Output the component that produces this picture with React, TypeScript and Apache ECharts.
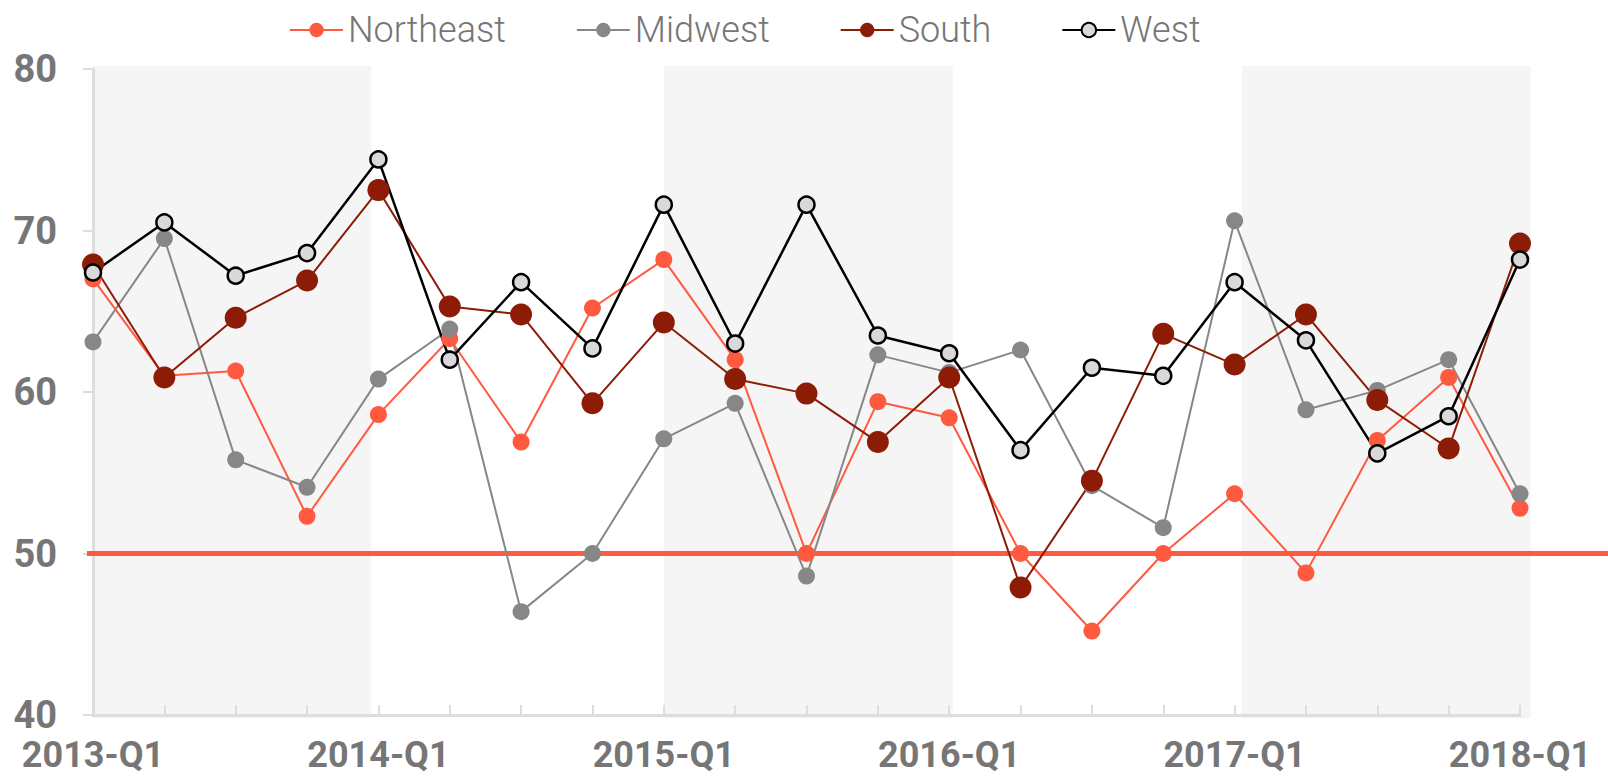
import React, { useEffect, useRef } from 'react';
import * as echarts from 'echarts';

const quarters = [
  '2013-Q1', '2013-Q2', '2013-Q3', '2013-Q4',
  '2014-Q1', '2014-Q2', '2014-Q3', '2014-Q4',
  '2015-Q1', '2015-Q2', '2015-Q3', '2015-Q4',
  '2016-Q1', '2016-Q2', '2016-Q3', '2016-Q4',
  '2017-Q1', '2017-Q2', '2017-Q3', '2017-Q4',
  '2018-Q1',
];

const northeast = [67.0, 61.0, 61.3, 52.3, 58.6, 63.3, 56.9, 65.2, 68.2, 62.0, 50.0, 59.4, 58.4, 50.0, 45.2, 50.0, 53.7, 48.8, 57.0, 60.9, 52.8];
const midwest = [63.1, 69.5, 55.8, 54.1, 60.8, 63.9, 46.4, 50.0, 57.1, 59.3, 48.6, 62.3, 61.2, 62.6, 54.2, 51.6, 70.6, 58.9, 60.1, 62.0, 53.7];
const south = [67.9, 60.9, 64.6, 66.9, 72.5, 65.3, 64.8, 59.3, 64.3, 60.8, 59.9, 56.9, 60.9, 47.9, 54.5, 63.6, 61.7, 64.8, 59.5, 56.5, 69.2];
const west = [67.4, 70.5, 67.2, 68.6, 74.4, 62.0, 66.8, 62.7, 71.6, 63.0, 71.6, 63.5, 62.4, 56.4, 61.5, 61.0, 66.8, 63.2, 56.2, 58.5, 68.2];

const seriesNames = ['Northeast', 'Midwest', 'South', 'West'];

const yMin = 40;
const yMax = 80;
const yInterval = 10;

// shaded year bands, in quarter-index units
const bandStarts = [0, 8, 16.1];
const bandEnds = [3.9, 12.05, 20.15];
const bandTop = 80.2;
const bandBottom = 39.8;

const threshold = 50;

const GRAY_TEXT = '#767676';
const AXIS_GRAY = '#dddddd';

export default function App() {
  const ref = useRef<HTMLDivElement>(null);

  useEffect(() => {
    if (!ref.current) return;
    const chart = echarts.init(ref.current, undefined, { renderer: 'svg' });

    const lineSeries = (name: string, data: number[], color: string, size: number, extra: any = {}) => ({
      name,
      type: 'line',
      data,
      xAxisIndex: 0,
      yAxisIndex: 0,
      symbol: 'circle',
      symbolSize: size,
      showSymbol: true,
      z: 4,
      lineStyle: { color, width: 2 },
      itemStyle: { color },
      emphasis: { disabled: true },
      ...extra,
    });

    chart.setOption({
      animation: false,
      grid: { left: 93, right: 88, top: 69, bottom: 62, containLabel: false },
      legend: {
        data: seriesNames,
        left: 289,
        top: 12,
        padding: 0,
        itemGap: 70,
        itemWidth: 53,
        itemHeight: 18,
        textStyle: { fontFamily: 'Roboto', fontWeight: 300, fontSize: 36, color: GRAY_TEXT },
      },
      xAxis: [
        {
          type: 'category',
          data: quarters,
          boundaryGap: false,
          z: 2,
          axisLine: { lineStyle: { color: AXIS_GRAY, width: 3 } },
          axisTick: { inside: true, length: 10, interval: 0, lineStyle: { color: AXIS_GRAY, width: 2 } },
          axisLabel: {
            interval: 3,
            margin: 28,
            fontFamily: 'Roboto',
            fontWeight: 'bold',
            fontSize: 36,
            lineHeight: 24,
            color: GRAY_TEXT,
          },
          splitLine: { show: false },
        },
        {
          type: 'value',
          min: 0,
          max: quarters.length - 1,
          show: false,
        },
      ],
      yAxis: {
        type: 'value',
        min: yMin,
        max: yMax,
        interval: yInterval,
        z: 2,
        axisLine: { show: true, lineStyle: { color: AXIS_GRAY, width: 3 } },
        axisTick: { show: true, length: 10, lineStyle: { color: AXIS_GRAY, width: 2 } },
        axisLabel: {
          margin: 36,
          fontFamily: 'Roboto',
          fontWeight: 'bold',
          fontSize: 38,
          color: GRAY_TEXT,
        },
        splitLine: { show: false },
      },
      series: [
        {
          type: 'custom',
          xAxisIndex: 1,
          yAxisIndex: 0,
          z: 1,
          silent: true,
          data: bandStarts.map((s, i) => [s, bandEnds[i]]),
          renderItem: (params: any, api: any) => {
            const a = api.coord([api.value(0), bandTop]);
            const b = api.coord([api.value(1), bandBottom]);
            return {
              type: 'rect',
              shape: { x: a[0], y: a[1], width: b[0] - a[0], height: b[1] - a[1] },
              style: { fill: '#f5f5f5' },
            };
          },
        },
        lineSeries('Northeast', northeast, '#ff5a3f', 17),
        lineSeries('Midwest', midwest, '#878787', 17),
        lineSeries('South', south, '#8c1c06', 22),
        lineSeries('West', west, '#000000', 16, {
          lineStyle: { color: '#000000', width: 2.5 },
          itemStyle: { color: '#d9d9d9', borderColor: '#000000', borderWidth: 2.5 },
        }),
      ],
    });

    const y50 = chart.convertToPixel({ yAxisIndex: 0 }, threshold) as number;
    const x0 = chart.convertToPixel({ xAxisIndex: 1 }, 0) as number;
    chart.setOption({
      graphic: [
        {
          type: 'line',
          z: 3,
          silent: true,
          shape: { x1: x0 - 6, y1: y50, x2: chart.getWidth(), y2: y50 },
          style: { stroke: '#ff5a3f', lineWidth: 5 },
        },
      ],
    });

    return () => chart.dispose();
  }, []);

  return (
    <div
      ref={ref}
      style={{ position: 'fixed', left: 0, top: 0, width: 1608, height: 777, background: '#ffffff' }}
    />
  );
}
